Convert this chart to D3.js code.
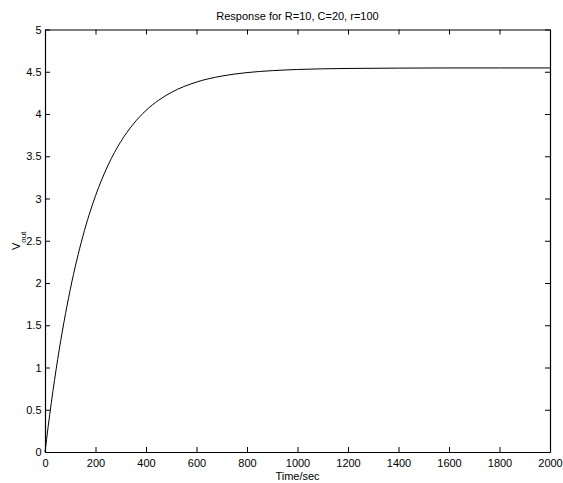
<!DOCTYPE html>
<html>
<head>
<meta charset="utf-8">
<script src="https://cdn.jsdelivr.net/npm/d3@7"></script>
<style>
  body { margin: 0; background: #fff; }
  text { font-family: "Liberation Sans", Arial, sans-serif; fill: #000; }
</style>
</head>
<body>
<script>
// ---------------- data ----------------
var timeSec = [0, 25, 50, 75, 100, 125, 150, 175, 200, 250, 300, 350, 400, 450, 500,
               600, 700, 800, 900, 1000, 1200, 1400, 1600, 1800, 2000];
var vOut    = [0, 0.584, 1.093, 1.536, 1.923, 2.260, 2.554, 2.810, 3.032, 3.396, 3.673, 3.882, 4.042, 4.163, 4.255,
               4.378, 4.449, 4.490, 4.513, 4.527, 4.539, 4.543, 4.545, 4.545, 4.545];
var xTicks = [0, 200, 400, 600, 800, 1000, 1200, 1400, 1600, 1800, 2000];
var yTicks = [0, 0.5, 1, 1.5, 2, 2.5, 3, 3.5, 4, 4.5, 5];
var titleText = 'Response for R=10, C=20, r=100';

// ---------------- layout ----------------
var W = 563, H = 483;
var box = { left: 45, right: 550, top: 29.5, bottom: 452 };

var svg = d3.select('body').append('svg').attr('width', W).attr('height', H);

var x = d3.scaleLinear().domain([0, 2000]).range([box.left, box.right]);
var y = d3.scaleLinear().domain([0, 5]).range([box.bottom, box.top]);

// axes (ticks pointing inward, matlab style box)
var fmt = d3.format('');
svg.append('g').attr('transform', 'translate(0,' + box.bottom + ')')
  .call(d3.axisBottom(x).tickValues(xTicks).tickFormat(fmt).tickSizeInner(-5).tickSizeOuter(0).tickPadding(7));
svg.append('g').attr('transform', 'translate(0,' + box.top + ')')
  .call(d3.axisTop(x).tickValues(xTicks).tickFormat('').tickSizeInner(-5).tickSizeOuter(0));
svg.append('g').attr('transform', 'translate(' + box.left + ',0)')
  .call(d3.axisLeft(y).tickValues(yTicks).tickFormat(fmt).tickSizeInner(-5).tickSizeOuter(0).tickPadding(3.5));
svg.append('g').attr('transform', 'translate(' + box.right + ',0)')
  .call(d3.axisRight(y).tickValues(yTicks).tickFormat('').tickSizeInner(-5).tickSizeOuter(0));

svg.selectAll('.domain').attr('stroke', '#000').attr('stroke-width', 1.2);
svg.selectAll('.tick line').attr('stroke', '#000');
svg.selectAll('.tick text').style('font-size', '11px').style('font-family', '"Liberation Sans", Arial, sans-serif');

// curve
var line = d3.line()
  .x(function(d, i) { return x(timeSec[i]); })
  .y(function(d) { return y(d); })
  .curve(d3.curveMonotoneX);

svg.append('path')
  .attr('d', line(vOut))
  .attr('fill', 'none')
  .attr('stroke', '#000')
  .attr('stroke-width', 1);

// title
svg.append('text')
  .attr('x', (box.left + box.right) / 2)
  .attr('y', 20)
  .attr('text-anchor', 'middle')
  .style('font-size', '11px')
  .text(titleText);

// x label
svg.append('text')
  .attr('x', (box.left + box.right) / 2)
  .attr('y', 480)
  .attr('text-anchor', 'middle')
  .style('font-size', '11px')
  .text('Time/sec');

// y label with subscript
var yl = svg.append('text')
  .attr('transform', 'translate(20,' + ((box.top + box.bottom) / 2) + ') rotate(-90)')
  .attr('text-anchor', 'middle')
  .style('font-size', '11px');
yl.append('tspan').text('V');
yl.append('tspan').attr('dy', 6).style('font-size', '8px').text('out');
</script>
</body>
</html>
